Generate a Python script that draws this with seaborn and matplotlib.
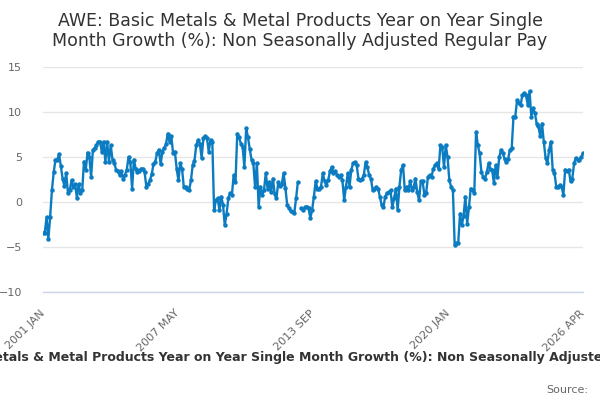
import numpy as np
import pandas as pd
import matplotlib
matplotlib.use("Agg")
import matplotlib.pyplot as plt
import seaborn as sns

# --- chart data ---
TITLE = ("AWE: Basic Metals & Metal Products Year on Year Single Month Growth (%): "
         "Non Seasonally Adjusted Regular Pay")
START_MONTH = "2001-01"
END_MONTH = "2026-04"

# monthly year-on-year growth (%), 2001 JAN .. 2026 APR, one missing month (NaN)
growth = [
    -3.4, -3.4, -1.7, -4.1, -1.7, 1.3, 3.3, 4.7, 4.7, 5.3, 4.0, 2.6,
    1.8, 3.2, 1.0, 1.3, 2.4, 1.7, 2.0, 0.5, 2.0, 1.0, 1.3, 4.5,
    3.6, 5.5, 5.0, 2.8, 5.8, 6.0, 6.3, 6.7, 6.7, 5.6, 6.7, 4.5,
    6.7, 4.5, 6.3, 4.7, 4.3, 3.6, 3.4, 3.0, 3.4, 2.6, 3.0, 3.6,
    5.0, 4.4, 1.5, 4.7, 3.7, 3.3, 3.5, 3.7, 3.7, 3.3, 1.7, 2.0,
    2.4, 3.1, 4.2, 4.5, 5.4, 5.8, 4.2, 5.6, 6.0, 6.4, 7.6, 6.7,
    7.3, 5.4, 5.6, 3.7, 2.4, 4.3, 3.7, 1.7, 1.7, 1.5, 1.3, 2.4,
    4.1, 4.6, 6.3, 6.9, 6.5, 4.9, 7.1, 7.3, 7.1, 5.6, 6.9, 6.7,
    -0.9, 0.2, 0.4, -0.9, 0.6, -0.3, -2.6, -1.3, 0.4, 1.0, 0.8, 3.0,
    2.2, 7.6, 7.2, 6.5, 6.1, 3.9, 8.2, 7.2, 5.9, 4.7, 4.3, 1.7,
    4.3, -0.5, 1.7, 0.8, 1.3, 3.2, 1.5, 2.2, 1.1, 2.6, 0.9, 0.4,
    2.2, 1.8, 2.0, 3.2, 1.6, -0.3, -0.7, -1.0, -1.1, -1.2, 0.4, 2.2,
    np.nan, -0.7, -0.9, -0.6, -0.5, -0.7, -1.8, -0.9, 0.6, 2.3, 1.5, 1.5,
    1.7, 3.2, 2.3, 1.9, 2.4, 3.4, 3.9, 3.2, 3.4, 3.0, 2.8, 3.0,
    2.4, 0.2, 1.7, 3.2, 1.7, 3.6, 4.3, 4.4, 4.1, 2.6, 2.4, 2.6,
    3.0, 4.4, 3.9, 3.0, 2.6, 1.3, 1.5, 1.7, 1.5, 0.6, -0.3, -0.6,
    0.6, 1.0, 1.1, 1.3, -0.6, 0.4, 1.5, -0.9, 1.7, 3.6, 4.1, 1.3,
    1.7, 1.3, 2.3, 1.3, 1.7, 2.6, 1.1, 0.2, 2.3, 2.3, 0.8, 1.0,
    2.8, 3.0, 2.8, 3.7, 4.1, 4.3, 3.7, 6.3, 6.1, 3.9, 6.3, 5.0,
    2.4, 1.7, 1.3, -4.8, -4.6, -4.5, -1.3, -2.6, -1.5, 0.6, -2.4, -0.6,
    1.5, 1.3, 1.0, 7.8, 6.3, 5.4, 3.3, 2.8, 2.6, 3.3, 4.3, 3.7,
    3.6, 2.1, 4.1, 2.8, 5.0, 5.8, 5.4, 4.8, 4.4, 4.8, 5.8, 6.0,
    9.5, 9.5, 11.3, 11.0, 10.8, 11.9, 12.1, 11.9, 10.8, 12.3, 9.5, 10.4,
    9.9, 8.7, 8.4, 7.3, 8.7, 6.7, 4.9, 4.3, 5.8, 6.7, 3.6, 3.2,
    1.7, 1.7, 1.9, 1.7, 0.8, 3.6, 3.4, 3.6, 2.3, 2.6, 4.3, 4.9,
    4.7, 4.7, 5.0, 5.4,
]

x_tick_labels = ["2001 JAN", "2007 MAY", "2013 SEP", "2020 JAN", "2026 APR"]
y_ticks = [-10, -5, 0, 5, 10, 15]

# --- build table ---
months = pd.period_range(START_MONTH, END_MONTH, freq="M")
df = pd.DataFrame({"month": np.arange(len(months)), "growth": growth})
# break the line where a month is missing
df["segment"] = df["growth"].isna().cumsum()
df = df.dropna()

# --- plot ---
sns.set_style("white")
plt.rcParams["font.family"] = ["DejaVu Sans"]

fig = plt.figure(figsize=(6, 4), dpi=100)
ax = fig.add_axes([43 / 600, 108 / 400, 540 / 600, 225 / 400])

sns.lineplot(data=df, x="month", y="growth", units="segment", estimator=None,
             color="#0b7cc1", linewidth=1.7, marker="o", markersize=3.2,
             markeredgewidth=0, ax=ax, legend=False)

ax.set_xlim(0, len(months) - 1)
ax.set_ylim(-10, 15)
ax.set_yticks(y_ticks)
ax.yaxis.grid(True, color="#e6e6e6", linewidth=1)
ax.set_axisbelow(True)

# 16 equal intervals along the time axis, every 4th one labelled
tick_pos = np.linspace(0, len(months) - 1, 17)
ax.set_xticks(tick_pos)
labels = []
k = 0
for j in range(len(tick_pos)):
    if j % 4 == 0:
        labels.append(x_tick_labels[k])
        k += 1
    else:
        labels.append("")
ax.set_xticklabels(labels, rotation=45, ha="right", va="center",
                   rotation_mode="anchor")

for side in ["top", "right", "left"]:
    ax.spines[side].set_visible(False)
ax.spines["bottom"].set_color("#ccd6eb")
ax.spines["bottom"].set_linewidth(1)

ax.tick_params(axis="x", length=10, width=1, color="#ccd6eb",
               labelcolor="#666666", labelsize=8, pad=4)
ax.tick_params(axis="y", length=0, labelcolor="#666666", labelsize=8, pad=15)
ax.set_xlabel("")
ax.set_ylabel("")

fig.text(0.5, 1 - 31 / 400,
         "AWE: Basic Metals & Metal Products Year on Year Single\n"
         "Month Growth (%): Non Seasonally Adjusted Regular Pay",
         ha="center", va="center", fontsize=12.5, color="#333333",
         linespacing=1.15)
# the reference lets this long caption run past both edges
fig.text(0.5, 1 - 357 / 400, TITLE, ha="center", va="center",
         fontsize=9, fontweight="bold", color="#333333")
fig.text(588 / 600, 1 - 390 / 400, "Source:", ha="right", va="center",
         fontsize=8, color="#666666")

fig.savefig("out.png", dpi=100)
